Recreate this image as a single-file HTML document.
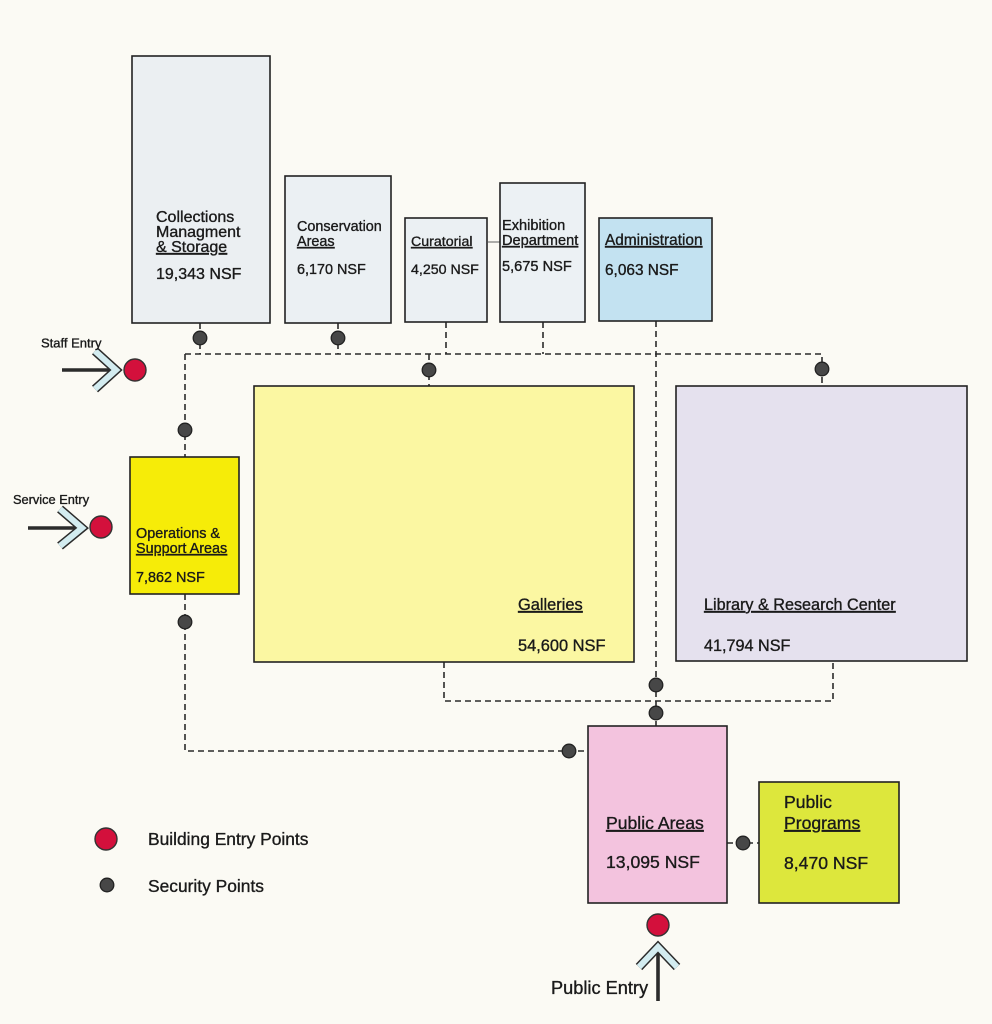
<!DOCTYPE html>
<html>
<head>
<meta charset="utf-8">
<style>
html,body{margin:0;padding:0;background:#fbfaf4;}
svg{display:block;}
text{font-family:"Liberation Sans",Arial,sans-serif;fill:#1a1a1a;stroke:#1a1a1a;stroke-width:0.35;}
.u{text-decoration:underline;}
</style>
</head>
<body>
<svg width="992" height="1024" viewBox="0 0 992 1024" xmlns="http://www.w3.org/2000/svg">
<rect x="0" y="0" width="992" height="1024" fill="#fbfaf4"/>

<!-- dashed connectors -->
<g stroke="#2a2a2a" stroke-width="1.6" stroke-dasharray="6,4" fill="none">
  <path d="M185,354 H822 V386"/>
  <path d="M200,323 V354"/>
  <path d="M338,323 V354"/>
  <path d="M446,322 V354"/>
  <path d="M543,322 V354"/>
  <path d="M429,354 V386"/>
  <path d="M185,354 V457"/>
  <path d="M185,594 V751 H587"/>
  <path d="M656,321 V726"/>
  <path d="M444,662 V701 H833 V661"/>
  <path d="M727,843 H759"/>
</g>
<line x1="488" y1="242" x2="500" y2="242" stroke="#777" stroke-width="1.2"/>

<!-- boxes -->
<g stroke="#222" stroke-width="1.6">
  <rect x="132" y="56" width="138" height="267" fill="#ebeff2"/>
  <rect x="285" y="176" width="106" height="147" fill="#ebf0f3"/>
  <rect x="405" y="218" width="82" height="104" fill="#ebf0f3"/>
  <rect x="500" y="183" width="85" height="139" fill="#ecf1f4"/>
  <rect x="599" y="218" width="113" height="103" fill="#c3e2f1"/>
  <rect x="130" y="457" width="109" height="137" fill="#f6ec08"/>
  <rect x="254" y="386" width="380" height="276" fill="#fbf7a2"/>
  <rect x="676" y="386" width="291" height="275" fill="#e5e1ee"/>
  <rect x="588" y="726" width="139" height="177" fill="#f3c3de"/>
  <rect x="759" y="782" width="140" height="121" fill="#dde73c"/>
</g>

<!-- box text -->
<text font-size="16" x="156" y="222">Collections</text>
<text font-size="16" x="156" y="237">Managment</text>
<text font-size="16" x="156" y="252" class="u">&amp; Storage</text>
<text font-size="16" x="156" y="279">19,343 NSF</text>

<text font-size="14.4" x="297" y="231">Conservation</text>
<text font-size="14.4" x="297" y="246" class="u">Areas</text>
<text font-size="14.4" x="297" y="274">6,170 NSF</text>

<text font-size="14.2" x="411" y="246" class="u">Curatorial</text>
<text font-size="14.2" x="411" y="274">4,250 NSF</text>

<text font-size="14.6" x="502" y="230">Exhibition</text>
<text font-size="14.6" x="502" y="245" class="u">Department</text>
<text font-size="14.6" x="502" y="271">5,675 NSF</text>

<text font-size="15.4" x="605" y="245" class="u">Administration</text>
<text font-size="15.4" x="605" y="275">6,063 NSF</text>

<text font-size="14.4" x="136" y="538">Operations &amp;</text>
<text font-size="14.4" x="136" y="553" class="u">Support Areas</text>
<text font-size="14.4" x="136" y="582">7,862 NSF</text>

<text font-size="16.4" x="518" y="610" class="u">Galleries</text>
<text font-size="16.4" x="518" y="651">54,600 NSF</text>

<text font-size="16.2" x="704" y="610" class="u">Library &amp; Research Center</text>
<text font-size="16.2" x="704" y="651">41,794 NSF</text>

<text font-size="17.6" x="606" y="829" class="u">Public Areas</text>
<text font-size="17.6" x="606" y="868">13,095 NSF</text>

<text font-size="17.6" x="784" y="808">Public</text>
<text font-size="17.6" x="784" y="829" class="u">Programs</text>
<text font-size="17.6" x="784" y="869">8,470 NSF</text>

<!-- security dots -->
<g fill="#474747" stroke="#222" stroke-width="1.3">
  <circle cx="200" cy="338" r="6.8"/>
  <circle cx="338" cy="338" r="6.8"/>
  <circle cx="429" cy="370" r="6.8"/>
  <circle cx="822" cy="369" r="6.8"/>
  <circle cx="185" cy="430" r="6.8"/>
  <circle cx="185" cy="622" r="6.8"/>
  <circle cx="569" cy="751" r="6.8"/>
  <circle cx="656" cy="685" r="6.8"/>
  <circle cx="656" cy="713" r="6.8"/>
  <circle cx="743" cy="843" r="6.8"/>
  <circle cx="107" cy="885" r="6.8"/>
</g>

<!-- entry points -->
<g fill="#d3103c" stroke="#333" stroke-width="1.4">
  <circle cx="135" cy="370" r="11"/>
  <circle cx="101" cy="527" r="11"/>
  <circle cx="658" cy="925" r="11"/>
  <circle cx="106" cy="839" r="11"/>
</g>

<!-- arrows -->
<g fill="none">
  <!-- staff -->
  <line x1="62" y1="370" x2="114" y2="370" stroke="#2b2b2b" stroke-width="3.6"/>
  <path d="M95,351 L116,370 L95,389" stroke="#2b2b2b" stroke-width="9" stroke-linejoin="miter"/>
  <path d="M95,351 L116,370 L95,389" stroke="#d3ecf0" stroke-width="6" stroke-linejoin="miter"/>
  <!-- service -->
  <line x1="28" y1="528" x2="80" y2="528" stroke="#2b2b2b" stroke-width="3.6"/>
  <path d="M60,509 L82,528 L60,546" stroke="#2b2b2b" stroke-width="9" stroke-linejoin="miter"/>
  <path d="M60,509 L82,528 L60,546" stroke="#d3ecf0" stroke-width="6" stroke-linejoin="miter"/>
  <!-- public -->
  <line x1="658" y1="1001" x2="658" y2="949" stroke="#2b2b2b" stroke-width="3.6"/>
  <path d="M639,967 L658,947 L677,967" stroke="#2b2b2b" stroke-width="9" stroke-linejoin="miter"/>
  <path d="M639,967 L658,947 L677,967" stroke="#d3ecf0" stroke-width="6" stroke-linejoin="miter"/>
</g>

<!-- labels -->
<text font-size="13" x="41" y="347.5">Staff Entry</text>
<text font-size="12.8" x="13" y="504">Service Entry</text>
<text font-size="18.2" x="551" y="994">Public Entry</text>
<text font-size="17.4" x="148" y="845">Building Entry Points</text>
<text font-size="17.4" x="148" y="892">Security Points</text>
</svg>
</body>
</html>
